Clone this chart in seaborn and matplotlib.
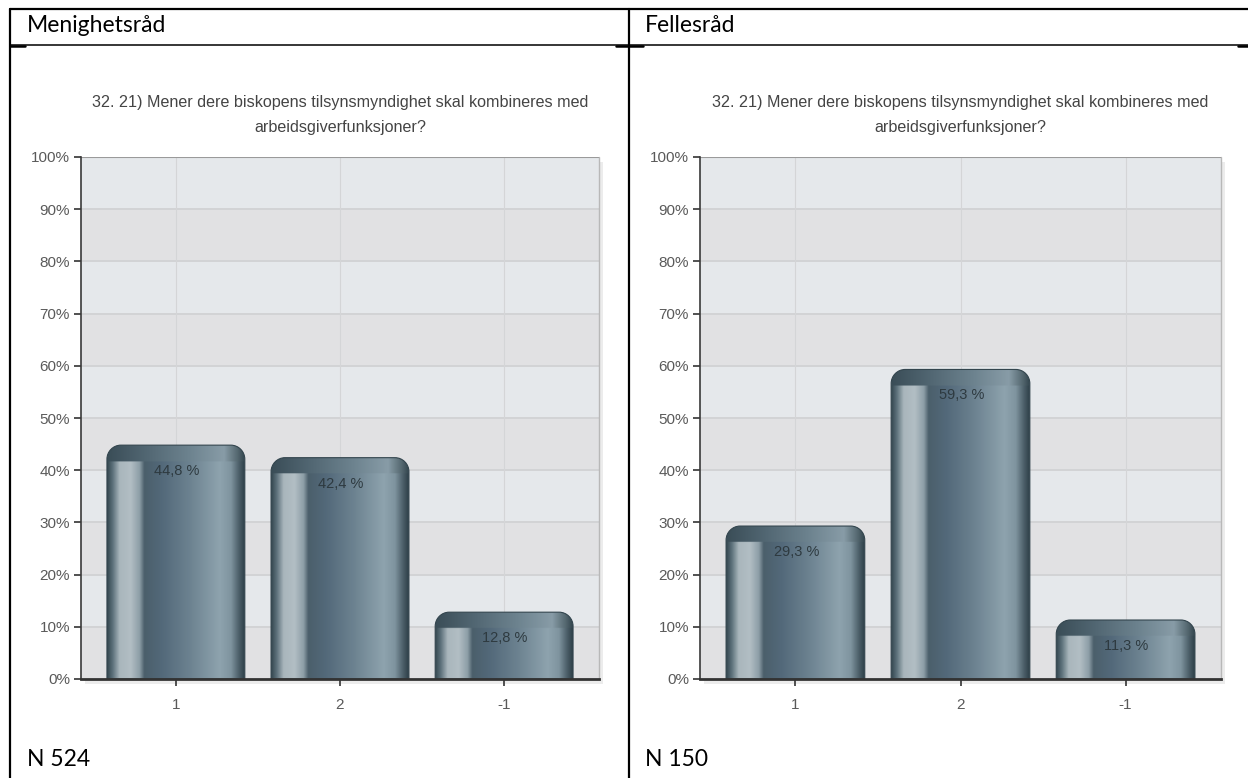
import numpy as np
import matplotlib
matplotlib.use('Agg')
import matplotlib.pyplot as plt
import seaborn as sns
from matplotlib.path import Path
from matplotlib.patches import PathPatch, Rectangle
from matplotlib.lines import Line2D
from matplotlib.colors import to_rgb

# chart data
categories = ['1', '2', '-1']
menighetsrad_pct = [44.8, 42.4, 12.8]
fellesrad_pct = [29.3, 59.3, 11.3]
panel_titles = ['Menighetsråd', 'Fellesråd']
panel_n = ['N 524', 'N 150']
question = ('32. 21) Mener dere biskopens tilsynsmyndighet skal kombineres med\n'
            'arbeidsgiverfunksjoner?')
y_ticks = list(range(0, 101, 10))

sns.set_style('white')
narrow = ['Liberation Sans', 'DejaVu Sans']
plt.rcParams['font.family'] = narrow

W, H = 1248, 778
fig = plt.figure(figsize=(W / 100, H / 100), dpi=100)
fig.patch.set_facecolor('white')


def fx(px):
    return px / W


def fy(py):
    return 1 - py / H


# horizontal colour profile of the cylinder bars (fraction, colour)
body_stops = [(0.00, '#34474f'), (0.04, '#5d717b'), (0.09, '#a9b6bc'),
              (0.17, '#b2bec4'), (0.235, '#8d9ea7'), (0.27, '#4b5f6b'),
              (0.40, '#53697a'), (0.60, '#6c8290'), (0.82, '#8ea3ae'),
              (0.90, '#7f949f'), (0.96, '#4b5e68'), (1.00, '#2f4049')]
cap_stops = [(0.00, '#3a4d57'), (0.30, '#536874'), (0.60, '#6d838f'),
             (0.85, '#889ca7'), (0.95, '#54676f'), (1.00, '#34464f')]


def profile(stops, n):
    xs = np.linspace(0, 1, n)
    pos = [s[0] for s in stops]
    cols = np.array([to_rgb(s[1]) for s in stops])
    return np.stack([np.interp(xs, pos, cols[:, i]) for i in range(3)], axis=1)


def rounded_bar_path(x0, x1, top, rx, ry):
    k = 0.5523
    verts = [(x0, 0), (x0, top - ry),
             (x0, top - ry + k * ry), (x0 + rx - k * rx, top), (x0 + rx, top),
             (x1 - rx, top),
             (x1 - rx + k * rx, top), (x1, top - ry + k * ry), (x1, top - ry),
             (x1, 0), (x0, 0)]
    codes = [Path.MOVETO, Path.LINETO,
             Path.CURVE4, Path.CURVE4, Path.CURVE4,
             Path.LINETO,
             Path.CURVE4, Path.CURVE4, Path.CURVE4,
             Path.LINETO, Path.CLOSEPOLY]
    return Path(verts, codes)


def draw_panel(ax, values):
    sns.barplot(x=categories, y=values, ax=ax, width=0.84, color='#6c8290',
                order=categories, zorder=3)
    xlim = (-0.578, 2.578)
    ylim = (0, 100)

    # alternating background bands
    for i, lo in enumerate(y_ticks[:-1]):
        ax.axhspan(lo, lo + 10, color='#e1e1e3' if i % 2 == 0 else '#e5e8eb',
                   zorder=0, lw=0)
    for t in y_ticks[1:-1]:
        ax.axhline(t, color='#d2d3d5', lw=1.4, zorder=1)
    for i in range(len(categories)):
        ax.axvline(i, color='#d4d5d7', lw=0.8, zorder=1)
    ax.axhline(100, color='#9a9a9a', lw=1.5, zorder=2)

    rx, ry, cap = 0.085, 2.7, 3.0
    body = profile(body_stops, 200)
    capc = profile(cap_stops, 200)
    for bar, v in zip(ax.containers[0], values):
        x0 = bar.get_x()
        x1 = x0 + bar.get_width()
        bar.set_visible(False)
        rows = 300
        ys = np.linspace(0, v, rows)
        img = np.repeat(body[None, :, :], rows, axis=0)
        img[ys > v - cap] = capc
        path = rounded_bar_path(x0, x1, v, rx, ry)
        clip = PathPatch(path, transform=ax.transData, facecolor='none')
        im = ax.imshow(img, extent=(x0, x1, 0, v), origin='lower',
                       aspect='auto', zorder=3, interpolation='bilinear')
        im.set_clip_path(clip)
        ax.add_patch(PathPatch(path, facecolor='none', edgecolor='#33454e',
                               lw=0.8, zorder=4))
        ax.annotate(f'{v:.1f} %'.replace('.', ','), xy=((x0 + x1) / 2, v),
                    xytext=(1, -26), textcoords='offset pixels',
                    ha='center', va='center', fontsize=10.5, color='#2e3a40',
                    zorder=5)

    ax.set_xlim(xlim)
    ax.set_ylim(ylim)
    ax.set_yticks(y_ticks)
    ax.set_yticklabels([f'{t}%' for t in y_ticks])
    ax.set_xticks(range(len(categories)))
    ax.set_xticklabels(categories)
    ax.tick_params(axis='both', colors='#333333', labelcolor='#5a5a5a',
                   labelsize=11, direction='out', length=5, width=1.2,
                   left=True, bottom=True, pad=3)
    ax.tick_params(axis='x', pad=9)
    for side in ['top', 'right']:
        ax.spines[side].set_visible(False)
    ax.spines['left'].set_color('#3a3a3a')
    ax.spines['left'].set_linewidth(1.2)
    ax.spines['bottom'].set_color('#333333')
    ax.spines['bottom'].set_linewidth(2)
    ax.spines['left'].set_zorder(6)
    ax.spines['bottom'].set_zorder(6)
    ax.plot([1, 1], [0, 1], transform=ax.transAxes, color='#b8b8b8', lw=1,
            zorder=6, clip_on=False)
    ax.set_xlabel('')
    ax.set_ylabel('')
    ax.set_title(question, fontsize=11.6, color='#444444', linespacing=1.8,
                 pad=18)


panels = [(81, 599, menighetsrad_pct), (700, 1221, fellesrad_pct)]
top_px, bottom_px = 157, 679
for x0, x1, vals in panels:
    # soft drop shadow behind the plot area
    fig.add_artist(Rectangle((fx(x0 + 4), fy(bottom_px + 5)), fx(x1 - x0),
                             (bottom_px - top_px) / H, transform=fig.transFigure,
                             facecolor='#ececec', edgecolor='none', zorder=-1))
    ax = fig.add_axes([fx(x0), fy(bottom_px), fx(x1 - x0),
                       (bottom_px - top_px) / H])
    draw_panel(ax, vals)

# table borders of the surrounding document
table_lines = [([10, 1248], [9, 9], 1.6), ([10, 1248], [45, 45], 1.1),
               ([10, 10], [9, 778], 1.6), ([629, 629], [9, 778], 1.6),
               ([10, 25], [46, 46], 1.8), ([616, 643], [46, 46], 1.8),
               ([1238, 1248], [46, 46], 1.8)]
for xs, ys, lw in table_lines:
    fig.add_artist(Line2D([fx(v) for v in xs], [fy(v) for v in ys],
                          transform=fig.transFigure, color='black', lw=lw))

doc_font = ['Lato', 'Open Sans', 'DejaVu Sans']
for i, (name, n) in enumerate(zip(panel_titles, panel_n)):
    left = 27 if i == 0 else 645
    fig.text(fx(left), fy(25), name, fontsize=16.5, family=doc_font,
             ha='left', va='center', color='black')
    fig.text(fx(left), fy(759), n, fontsize=16.5, family=doc_font,
             ha='left', va='center', color='black')

fig.savefig('out.png', dpi=100)
